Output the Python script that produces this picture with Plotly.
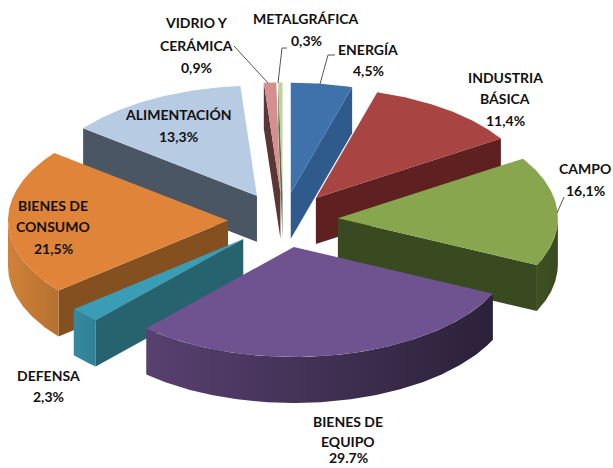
import math
import plotly.graph_objects as go

categories = ["ENERGÍA", "INDUSTRIA BÁSICA", "CAMPO", "BIENES DE EQUIPO", "DEFENSA",
              "BIENES DE CONSUMO", "ALIMENTACIÓN", "VIDRIO Y CERÁMICA", "METALGRÁFICA"]
values = [4.5, 11.4, 16.1, 29.7, 2.3, 21.5, 13.3, 0.9, 0.3]
top_colors = ["#3F72AA", "#A84543", "#87A64E", "#6F5390", "#3A9CB5", "#E0843A", "#B7CBE3", "#D58F8E", "#B9D597"]
cut_colors = ["#2F5A8C", "#5E2020", "#3A4A20", "#3A2C50", "#27636F", "#84501F", "#4A5663", "#5A3637", "#5F6D48"]
outer_left = ["#2F5A8C", "#5E2020", "#3F5022", "#584070", "#36899F", "#D08238", "#4A5663", "#5A3637", "#5F6D48"]
outer_right = ["#2F5A8C", "#5E2020", "#3A4A20", "#2B2138", "#2F8095", "#B57030", "#4A5663", "#5A3637", "#5F6D48"]
draw_order = [6, 7, 8, 0, 1, 5, 2, 4, 3]

# label text lines: (text, x, y)
label_lines = [
    ("VIDRIO Y", 196, 22), ("CERÁMICA", 196, 45), ("0,9%", 196, 67),
    ("METALGRÁFICA", 306, 18), ("0,3%", 306, 40),
    ("ENERGÍA", 368, 49), ("4,5%", 368, 70),
    ("INDUSTRIA", 505, 77), ("BÁSICA", 505, 98), ("11,4%", 505, 120),
    ("CAMPO", 585, 168), ("16,1%", 585, 190),
    ("ALIMENTACIÓN", 178, 114), ("13,3%", 178, 136),
    ("BIENES DE", 53, 205), ("CONSUMO", 53, 226), ("21,5%", 53, 248),
    ("DEFENSA", 48, 375), ("2,3%", 48, 396),
    ("BIENES DE", 348, 421), ("EQUIPO", 348, 441), ("29.7%", 348, 457),
]
leader_lines = [
    [(234, 46), (268, 83)],
    [(278, 83), (282, 48), (287, 48)],
    [(320, 84), (328, 55), (335, 55)],
    [(557, 213), (564, 197)],
]

CX, CY, RX, RY, DEPTH, EXPLODE = 283, 220, 220, 110, 46, 0.25
W, H = 613, 468


def pt(tip, deg):
    a = math.radians(deg)
    return tip[0] + RX * math.sin(a), tip[1] - RY * math.cos(a)


def arc(tip, a, b):
    n = max(2, int(abs(b - a) * 1.5) + 2)
    return [pt(tip, a + (b - a) * i / (n - 1)) for i in range(n)]


def poly(points, color=None, grad=None):
    xs = [p[0] for p in points] + [points[0][0]]
    ys = [p[1] for p in points] + [points[0][1]]
    kw = dict(fillcolor=color) if color else dict(
        fillgradient=dict(type="horizontal", colorscale=[[0, grad[0]], [1, grad[1]]]))
    return go.Scatter(x=xs, y=ys, mode="lines", fill="toself", line=dict(width=0),
                      hoverinfo="skip", showlegend=False, **kw)


fig = go.Figure()
total = sum(values)
starts, acc = [], 0.0
for v in values:
    starts.append(acc / total * 360)
    acc += v

for i in draw_order:
    a = starts[i]
    b = a + values[i] / total * 360
    mid = math.radians((a + b) / 2)
    tip = (CX + EXPLODE * RX * math.sin(mid), CY - EXPLODE * RY * math.cos(mid))
    low = lambda p: (p[0], p[1] + DEPTH)
    if math.sin(math.radians(a)) < 0:
        p = pt(tip, a)
        fig.add_trace(poly([tip, p, low(p), low(tip)], cut_colors[i]))
    if math.sin(math.radians(b)) > 0:
        p = pt(tip, b)
        fig.add_trace(poly([tip, p, low(p), low(tip)], cut_colors[i]))
    lo, hi = max(a, 90), min(b, 270)
    if lo < hi:
        curve = arc(tip, lo, hi)
        fig.add_trace(poly(curve + [low(p) for p in reversed(curve)],
                           grad=(outer_left[i], outer_right[i])))
    fig.add_trace(poly([tip] + arc(tip, a, b), top_colors[i]))

for seg in leader_lines:
    fig.add_trace(go.Scatter(x=[p[0] for p in seg], y=[p[1] for p in seg], mode="lines",
                             line=dict(color="#555555", width=1), hoverinfo="skip", showlegend=False))

for text, x, y in label_lines:
    fig.add_annotation(x=x, y=y, text=text, showarrow=False, xanchor="center", yanchor="middle",
                       font=dict(family="Lato", size=14, color="#111111", weight=700))

fig.update_layout(width=W, height=H, margin=dict(l=0, r=0, t=0, b=0),
                  paper_bgcolor="white", plot_bgcolor="white", showlegend=False,
                  xaxis=dict(range=[0, W], visible=False, fixedrange=True),
                  yaxis=dict(range=[H, 0], visible=False, fixedrange=True))
fig.write_html("out.html", config=dict(displayModeBar=False),
               post_script="document.body.style.margin='0';document.body.style.overflow='hidden';")
